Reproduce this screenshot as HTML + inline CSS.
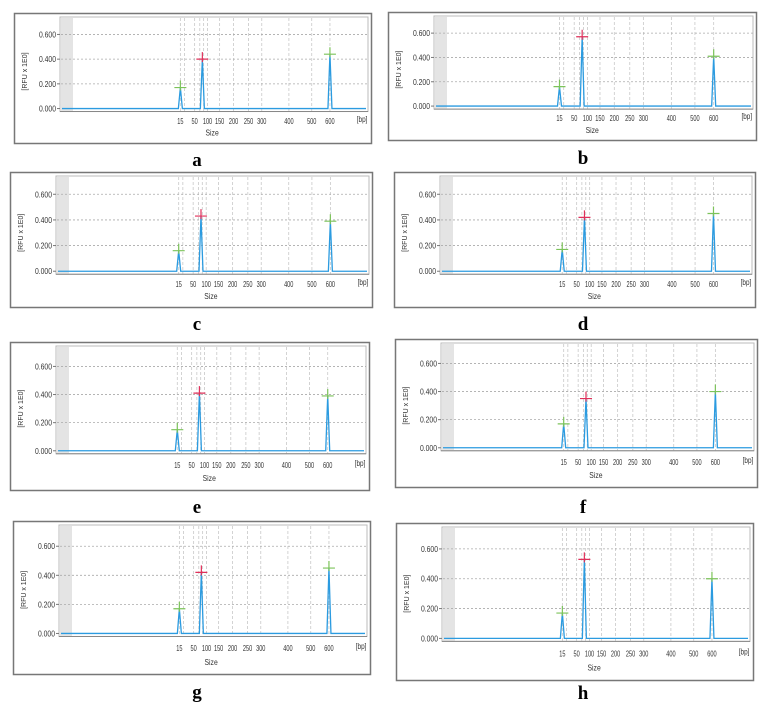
<!DOCTYPE html>
<html><head><meta charset="utf-8"><style>
html,body{margin:0;padding:0;background:#fff;}
svg{display:block;font-family:"Liberation Sans",sans-serif;}
.lbl{font-family:"Liberation Serif",serif;font-weight:bold;font-size:19px;}
</style></head><body>
<svg id="fig" width="763" height="710" viewBox="0 0 763 710"></svg>
<script>
// data
const sizeTicks = [15, 50, 100, 150, 200, 250, 300, 400, 500, 600];
const sizeTickFrac = [0.466, 0.506, 0.542, 0.576, 0.615, 0.657, 0.694, 0.770, 0.834, 0.885];
const extraGridSizes = [25, 70, 85];
const yTicks = [0, 0.2, 0.4, 0.6];
const yTickLabels = ["0.000", "0.200", "0.400", "0.600"];
const peakSizes = [15, 80, 600];
const peakColors = ["#7cc35a", "#e0305a", "#7cc35a"];
const panelNames = ["a", "b", "c", "d", "e", "f", "g", "h"];
const peaksA = [0.17, 0.40, 0.44];
const peaksB = [0.16, 0.57, 0.41];
const peaksC = [0.16, 0.43, 0.39];
const peaksD = [0.17, 0.42, 0.45];
const peaksE = [0.15, 0.41, 0.39];
const peaksF = [0.17, 0.35, 0.40];
const peaksG = [0.17, 0.42, 0.45];
const peaksH = [0.17, 0.53, 0.40];
const allPeaks = [peaksA, peaksB, peaksC, peaksD, peaksE, peaksF, peaksG, peaksH];

// layout (pixels)
const boxes = [[14,13,357,130],[388,12,368,128],[10,172,362,135],[394,172,361,135],
               [10,342,359,148],[395,339,362,148],[13,521,357,153],[396,523,357,157]];
const labelY = [160,158,324,324,507,507,692,693];

const NS = "http://www.w3.org/2000/svg";
const svg = document.getElementById("fig");
function mk(tag, attrs, parent){const e=document.createElementNS(NS,tag);for(const k in attrs)e.setAttribute(k,attrs[k]);(parent||svg).appendChild(e);return e;}

function sizeFrac(s){
  if (s <= sizeTicks[0]) return sizeTickFrac[0] - (sizeTicks[0]-s)*0.001;
  for (let i=0;i<sizeTicks.length-1;i++){
    if (s<=sizeTicks[i+1]){const t=(s-sizeTicks[i])/(sizeTicks[i+1]-sizeTicks[i]);return sizeTickFrac[i]+t*(sizeTickFrac[i+1]-sizeTickFrac[i]);}
  }
  return sizeTickFrac[sizeTickFrac.length-1];
}

boxes.forEach((b,pi)=>{
  const [bx,by,bw,bh]=b;
  const g = mk("g",{});
  
  
  const frame = mk("rect",{x:bx+0.5,y:by+0.5,width:bw,height:bh,fill:"#fff",stroke:"#777","stroke-width":1.5},g);
  
  
  const pl=bx+46, pr=bx+bw-3, pt=by+4;
  const y0=by+bh*0.735, y6=by+bh*0.165;
  const yb=y0+3;
  const yScale=v=>y0+(y6-y0)*v/0.6;
  const xScale=s=>bx+bw*sizeFrac(s);
  const pa = mk("rect",{x:pl,y:pt,width:pr-pl,height:yb-pt,fill:"#fff",stroke:"#bbb","stroke-width":1},g);
  
  
  const gray = mk("rect",{x:pl+1,y:pt+1,width:12,height:yb-pt-1,fill:"#e4e4e4"},g);
  
  
  sizeTicks.concat(extraGridSizes).forEach(s=>{
    const x=xScale(s);
    const l=mk("line",{x1:x,x2:x,y1:pt+1,y2:yb,stroke:"#c8c8c8","stroke-dasharray":"3,2","stroke-width":0.8},g);
    
    
  });
  yTicks.forEach((v,i)=>{
    const y=yScale(v);
    if(v>0){const l=mk("line",{x1:pl+1,x2:pr,y1:y,y2:y,stroke:"#aaa","stroke-dasharray":"2,2","stroke-width":0.8},g);
      
      }
    mk("line",{x1:pl-3,x2:pl,y1:y,y2:y,stroke:"#777"},g);
    const t=mk("text",{x:0,y:0,"font-size":8.5,"text-anchor":"end",fill:"#333",transform:`translate(${pl-4},${y+3}) scale(0.8,1)`},g);
    t.textContent=yTickLabels[i];
    
    
  });
  mk("line",{x1:pl,x2:pr,y1:yb,y2:yb,stroke:"#888"},g);
  const yt=mk("text",{x:bx+13,y:(y0+y6)/2,"font-size":7,"text-anchor":"middle",fill:"#333",transform:`rotate(-90 ${bx+13} ${(y0+y6)/2})`},g);
  yt.textContent="[RFU x 1E0]";
  
  
  const tly=by+bh*0.83+3;
  sizeTicks.forEach(s=>{
    const t=mk("text",{x:0,y:0,"font-size":8,"text-anchor":"middle",fill:"#333",transform:`translate(${xScale(s)},${tly}) scale(0.7,1)`},g);
    t.textContent=String(s);
    
    
  });
  const bp=mk("text",{x:0,y:0,"font-size":8,"text-anchor":"middle",fill:"#333",transform:`translate(${bx+bw*0.975},${tly-2}) scale(0.8,1)`},g);
  bp.textContent="[bp]";
  
  
  const st=mk("text",{x:0,y:0,"font-size":8.5,"text-anchor":"middle",fill:"#333",transform:`translate(${bx+bw*0.555},${by+bh*0.92+3}) scale(0.8,1)`},g);
  st.textContent="Size";
  
  
  const vals=allPeaks[pi];
  let d=`M${pl+2},${y0} `;
  peakSizes.forEach((s,i)=>{
    const x=xScale(s);
    d+=`L${x-2},${y0} L${x},${yScale(vals[i])} L${x+2},${y0} `;
  });
  d+=`L${pr-2},${y0}`;
  const tr=mk("path",{d:d,fill:"none",stroke:"#2b9be0","stroke-width":1.3},g);
  
  
  peakSizes.forEach((s,i)=>{
    const x=xScale(s), y=yScale(vals[i]);
    const m=mk("path",{d:`M${x-6},${y} L${x+6},${y} M${x},${y-7} L${x},${y+3}`,stroke:peakColors[i],"stroke-width":1.2,fill:"none"},g);
    
    
  });
  const lab=mk("text",{x:pi%2===0?197:583,y:labelY[pi]+6,"text-anchor":"middle",class:"lbl",fill:"#000"},svg);
  lab.textContent=panelNames[pi];
  
  
});
</script>
</body></html>
